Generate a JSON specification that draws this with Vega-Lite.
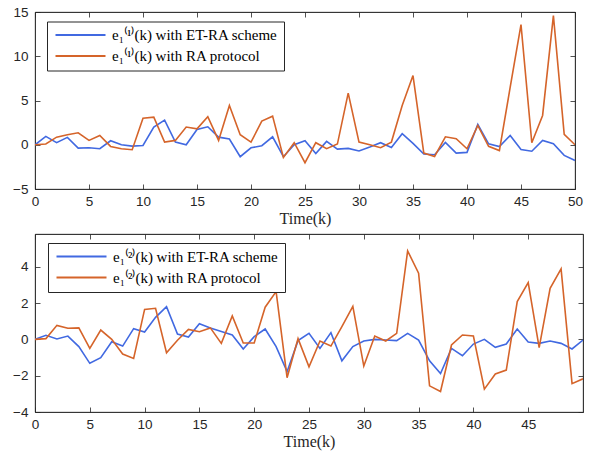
{
  "$schema": "https://vega.github.io/schema/vega-lite/v6.json",
  "background": "white",
  "padding": {"left": 12, "top": 4, "right": 5, "bottom": 5},
  "spacing": 6,
  "resolve": {"scale": {"color": "independent"}, "legend": {"color": "independent"}},
  "config": {
    "view": {"stroke": "#262626", "strokeWidth": 0.8},
    "axis": {"grid": false, "minExtent": 0, "domainColor": "#262626", "domainWidth": 0.8, "tickColor": "#262626", "tickWidth": 0.8, "tickSize": -5, "labelFont": "Liberation Sans", "labelFontSize": 13.5, "labelColor": "#262626", "labelPadding": 12, "labelFlush": false, "titleFont": "Liberation Serif", "titleFontSize": 16, "titleFontWeight": "normal", "titleColor": "#262626"},
    "axisBottom": {"labelPadding": 10},
    "legend": {"fillColor": "white", "strokeColor": "#262626", "padding": 6, "labelFont": "Liberation Serif", "labelFontSize": 15, "labelColor": "black", "symbolType": "M-1,0H9", "symbolStrokeWidth": 2, "symbolSize": 100, "rowPadding": 5, "labelOffset": 44, "labelLimit": 400}
  },
  "datasets": {
    "top": [
      {"k":0,"v":0,"s":"ET-RA"},{"k":1,"v":0.94,"s":"ET-RA"},{"k":2,"v":0.23,"s":"ET-RA"},{"k":3,"v":0.83,"s":"ET-RA"},{"k":4,"v":-0.38,"s":"ET-RA"},{"k":5,"v":-0.34,"s":"ET-RA"},{"k":6,"v":-0.45,"s":"ET-RA"},{"k":7,"v":0.45,"s":"ET-RA"},{"k":8,"v":0,"s":"ET-RA"},{"k":9,"v":-0.15,"s":"ET-RA"},
      {"k":10,"v":-0.08,"s":"ET-RA"},{"k":11,"v":2.0,"s":"ET-RA"},{"k":12,"v":2.78,"s":"ET-RA"},{"k":13,"v":0.3,"s":"ET-RA"},{"k":14,"v":0,"s":"ET-RA"},{"k":15,"v":1.73,"s":"ET-RA"},{"k":16,"v":2.03,"s":"ET-RA"},{"k":17,"v":0.86,"s":"ET-RA"},{"k":18,"v":0.64,"s":"ET-RA"},{"k":19,"v":-1.35,"s":"ET-RA"},
      {"k":20,"v":-0.34,"s":"ET-RA"},{"k":21,"v":-0.11,"s":"ET-RA"},{"k":22,"v":0.9,"s":"ET-RA"},{"k":23,"v":-1.35,"s":"ET-RA"},{"k":24,"v":0,"s":"ET-RA"},{"k":25,"v":0.45,"s":"ET-RA"},{"k":26,"v":-1.0,"s":"ET-RA"},{"k":27,"v":0.38,"s":"ET-RA"},{"k":28,"v":-0.49,"s":"ET-RA"},{"k":29,"v":-0.41,"s":"ET-RA"},
      {"k":30,"v":-0.71,"s":"ET-RA"},{"k":31,"v":-0.26,"s":"ET-RA"},{"k":32,"v":0.23,"s":"ET-RA"},{"k":33,"v":-0.3,"s":"ET-RA"},{"k":34,"v":1.24,"s":"ET-RA"},{"k":35,"v":0.15,"s":"ET-RA"},{"k":36,"v":-1.05,"s":"ET-RA"},{"k":37,"v":-1.13,"s":"ET-RA"},{"k":38,"v":0.26,"s":"ET-RA"},{"k":39,"v":-0.94,"s":"ET-RA"},
      {"k":40,"v":-0.86,"s":"ET-RA"},{"k":41,"v":2.3,"s":"ET-RA"},{"k":42,"v":0.1,"s":"ET-RA"},{"k":43,"v":-0.21,"s":"ET-RA"},{"k":44,"v":1.05,"s":"ET-RA"},{"k":45,"v":-0.53,"s":"ET-RA"},{"k":46,"v":-0.73,"s":"ET-RA"},{"k":47,"v":0.49,"s":"ET-RA"},{"k":48,"v":0.11,"s":"ET-RA"},{"k":49,"v":-1.2,"s":"ET-RA"},{"k":50,"v":-1.77,"s":"ET-RA"},
      {"k":0,"v":0,"s":"RA"},{"k":1,"v":0.08,"s":"RA"},{"k":2,"v":0.86,"s":"RA"},{"k":3,"v":1.13,"s":"RA"},{"k":4,"v":1.35,"s":"RA"},{"k":5,"v":0.49,"s":"RA"},{"k":6,"v":1.05,"s":"RA"},{"k":7,"v":-0.19,"s":"RA"},{"k":8,"v":-0.45,"s":"RA"},{"k":9,"v":-0.56,"s":"RA"},
      {"k":10,"v":3.0,"s":"RA"},{"k":11,"v":3.12,"s":"RA"},{"k":12,"v":0.3,"s":"RA"},{"k":13,"v":0.49,"s":"RA"},{"k":14,"v":2.0,"s":"RA"},{"k":15,"v":1.8,"s":"RA"},{"k":16,"v":3.16,"s":"RA"},{"k":17,"v":0.49,"s":"RA"},{"k":18,"v":4.44,"s":"RA"},{"k":19,"v":1.13,"s":"RA"},
      {"k":20,"v":0.3,"s":"RA"},{"k":21,"v":2.67,"s":"RA"},{"k":22,"v":3.23,"s":"RA"},{"k":23,"v":-1.43,"s":"RA"},{"k":24,"v":0.23,"s":"RA"},{"k":25,"v":-2.03,"s":"RA"},{"k":26,"v":0.23,"s":"RA"},{"k":27,"v":-0.45,"s":"RA"},{"k":28,"v":0.08,"s":"RA"},{"k":29,"v":5.83,"s":"RA"},
      {"k":30,"v":0.3,"s":"RA"},{"k":31,"v":0,"s":"RA"},{"k":32,"v":-0.34,"s":"RA"},{"k":33,"v":0.3,"s":"RA"},{"k":34,"v":4.44,"s":"RA"},{"k":35,"v":7.82,"s":"RA"},{"k":36,"v":-0.94,"s":"RA"},{"k":37,"v":-1.32,"s":"RA"},{"k":38,"v":0.9,"s":"RA"},{"k":39,"v":0.68,"s":"RA"},
      {"k":40,"v":-0.45,"s":"RA"},{"k":41,"v":2.18,"s":"RA"},{"k":42,"v":-0.17,"s":"RA"},{"k":43,"v":-0.66,"s":"RA"},{"k":44,"v":6.5,"s":"RA"},{"k":45,"v":13.57,"s":"RA"},{"k":46,"v":0.23,"s":"RA"},{"k":47,"v":3.31,"s":"RA"},{"k":48,"v":14.59,"s":"RA"},{"k":49,"v":1.17,"s":"RA"},{"k":50,"v":0,"s":"RA"}
    ],
    "bottom": [
      {"k":0,"v":0,"s":"ET-RA"},{"k":1,"v":0.22,"s":"ET-RA"},{"k":2,"v":0.02,"s":"ET-RA"},{"k":3,"v":0.18,"s":"ET-RA"},{"k":4,"v":-0.4,"s":"ET-RA"},{"k":5,"v":-1.32,"s":"ET-RA"},{"k":6,"v":-1.01,"s":"ET-RA"},{"k":7,"v":-0.13,"s":"ET-RA"},{"k":8,"v":-0.37,"s":"ET-RA"},{"k":9,"v":0.59,"s":"ET-RA"},
      {"k":10,"v":0.4,"s":"ET-RA"},{"k":11,"v":1.21,"s":"ET-RA"},{"k":12,"v":1.8,"s":"ET-RA"},{"k":13,"v":0.29,"s":"ET-RA"},{"k":14,"v":0.13,"s":"ET-RA"},{"k":15,"v":0.86,"s":"ET-RA"},{"k":16,"v":0.63,"s":"ET-RA"},{"k":17,"v":0.43,"s":"ET-RA"},{"k":18,"v":0.24,"s":"ET-RA"},{"k":19,"v":-0.53,"s":"ET-RA"},
      {"k":20,"v":0.15,"s":"ET-RA"},{"k":21,"v":0.57,"s":"ET-RA"},{"k":22,"v":-0.4,"s":"ET-RA"},{"k":23,"v":-1.78,"s":"ET-RA"},{"k":24,"v":-0.07,"s":"ET-RA"},{"k":25,"v":0.33,"s":"ET-RA"},{"k":26,"v":-0.5,"s":"ET-RA"},{"k":27,"v":0.37,"s":"ET-RA"},{"k":28,"v":-1.18,"s":"ET-RA"},{"k":29,"v":-0.4,"s":"ET-RA"},
      {"k":30,"v":-0.09,"s":"ET-RA"},{"k":31,"v":0,"s":"ET-RA"},{"k":32,"v":-0.04,"s":"ET-RA"},{"k":33,"v":-0.07,"s":"ET-RA"},{"k":34,"v":0.33,"s":"ET-RA"},{"k":35,"v":-0.04,"s":"ET-RA"},{"k":36,"v":-1.18,"s":"ET-RA"},{"k":37,"v":-1.88,"s":"ET-RA"},{"k":38,"v":-0.5,"s":"ET-RA"},{"k":39,"v":-0.9,"s":"ET-RA"},
      {"k":40,"v":-0.26,"s":"ET-RA"},{"k":41,"v":0,"s":"ET-RA"},{"k":42,"v":-0.44,"s":"ET-RA"},{"k":43,"v":-0.26,"s":"ET-RA"},{"k":44,"v":0.57,"s":"ET-RA"},{"k":45,"v":-0.15,"s":"ET-RA"},{"k":46,"v":-0.22,"s":"ET-RA"},{"k":47,"v":-0.09,"s":"ET-RA"},{"k":48,"v":-0.22,"s":"ET-RA"},{"k":49,"v":-0.53,"s":"ET-RA"},{"k":50,"v":-0.04,"s":"ET-RA"},
      {"k":0,"v":0,"s":"RA"},{"k":1,"v":0.04,"s":"RA"},{"k":2,"v":0.77,"s":"RA"},{"k":3,"v":0.61,"s":"RA"},{"k":4,"v":0.63,"s":"RA"},{"k":5,"v":-0.5,"s":"RA"},{"k":6,"v":0.51,"s":"RA"},{"k":7,"v":0,"s":"RA"},{"k":8,"v":-0.81,"s":"RA"},{"k":9,"v":-1.05,"s":"RA"},
      {"k":10,"v":1.65,"s":"RA"},{"k":11,"v":1.71,"s":"RA"},{"k":12,"v":-0.74,"s":"RA"},{"k":13,"v":-0.05,"s":"RA"},{"k":14,"v":0.55,"s":"RA"},{"k":15,"v":0.42,"s":"RA"},{"k":16,"v":0.63,"s":"RA"},{"k":17,"v":-0.22,"s":"RA"},{"k":18,"v":1.29,"s":"RA"},{"k":19,"v":-0.2,"s":"RA"},
      {"k":20,"v":-0.2,"s":"RA"},{"k":21,"v":1.77,"s":"RA"},{"k":22,"v":2.63,"s":"RA"},{"k":23,"v":-2.11,"s":"RA"},{"k":24,"v":0.04,"s":"RA"},{"k":25,"v":-1.51,"s":"RA"},{"k":26,"v":-0.09,"s":"RA"},{"k":27,"v":-0.37,"s":"RA"},{"k":28,"v":0.7,"s":"RA"},{"k":29,"v":1.82,"s":"RA"},
      {"k":30,"v":-1.47,"s":"RA"},{"k":31,"v":0.18,"s":"RA"},{"k":32,"v":-0.09,"s":"RA"},{"k":33,"v":0.33,"s":"RA"},{"k":34,"v":4.87,"s":"RA"},{"k":35,"v":3.64,"s":"RA"},{"k":36,"v":-2.56,"s":"RA"},{"k":37,"v":-2.87,"s":"RA"},{"k":38,"v":-0.31,"s":"RA"},{"k":39,"v":0.24,"s":"RA"},
      {"k":40,"v":0.18,"s":"RA"},{"k":41,"v":-2.74,"s":"RA"},{"k":42,"v":-1.91,"s":"RA"},{"k":43,"v":-1.69,"s":"RA"},{"k":44,"v":2.08,"s":"RA"},{"k":45,"v":3.13,"s":"RA"},{"k":46,"v":-0.46,"s":"RA"},{"k":47,"v":2.81,"s":"RA"},{"k":48,"v":3.88,"s":"RA"},{"k":49,"v":-2.44,"s":"RA"},{"k":50,"v":-2.17,"s":"RA"}
    ]
  },
  "vconcat": [
    {
      "width": 540, "height": 177,
      "data": {"name": "top"},
      "resolve": {"axis": {"x": "independent", "y": "independent"}},
      "layer": [
        {
          "mark": {"type": "line", "strokeWidth": 1.6, "clip": true},
          "encoding": {
            "x": {"field": "k", "type": "quantitative", "scale": {"domain": [0, 50], "nice": false, "zero": false}, "axis": {"values": [0,5,10,15,20,25,30,35,40,45,50], "title": "Time(k)", "titlePadding": 3}},
            "y": {"field": "v", "type": "quantitative", "scale": {"domain": [-5, 15], "nice": false, "zero": false}, "axis": {"values": [-5,0,5,10,15], "title": null}},
            "color": {"field": "s", "type": "nominal", "sort": ["ET-RA", "RA"], "scale": {"domain": ["ET-RA", "RA"], "range": ["#4169E1", "#D5642A"]}, "legend": {"title": null, "orient": "none", "legendX": 12, "legendY": 9.5, "labelExpr": "datum.label == 'ET-RA' ? 'e₁⁽¹⁾(k) with ET-RA scheme' : 'e₁⁽¹⁾(k) with RA protocol'"}}
          }
        },
        {
          "mark": {"type": "line", "opacity": 0},
          "encoding": {
            "x": {"field": "k", "type": "quantitative", "axis": {"orient": "top", "values": [0,5,10,15,20,25,30,35,40,45,50], "labels": false, "labelPadding": 0, "title": null}},
            "y": {"field": "v", "type": "quantitative", "axis": {"orient": "right", "values": [-5,0,5,10,15], "labels": false, "labelPadding": 0, "title": null}},
            "detail": {"field": "s"}
          }
        }
      ]
    },
    {
      "width": 548, "height": 178,
      "data": {"name": "bottom"},
      "resolve": {"axis": {"x": "independent", "y": "independent"}},
      "layer": [
        {
          "mark": {"type": "line", "strokeWidth": 1.6, "clip": true},
          "encoding": {
            "x": {"field": "k", "type": "quantitative", "scale": {"domain": [0, 50], "nice": false, "zero": false}, "axis": {"values": [0,5,10,15,20,25,30,35,40,45], "title": "Time(k)", "titlePadding": 3}},
            "y": {"field": "v", "type": "quantitative", "scale": {"domain": [-4, 5.8], "nice": false, "zero": false}, "axis": {"values": [-4,-2,0,2,4], "title": null}},
            "color": {"field": "s", "type": "nominal", "sort": ["ET-RA", "RA"], "scale": {"domain": ["ET-RA", "RA"], "range": ["#4169E1", "#D5642A"]}, "legend": {"title": null, "orient": "none", "legendX": 13, "legendY": 9, "labelExpr": "datum.label == 'ET-RA' ? 'e₁⁽²⁾(k) with ET-RA scheme' : 'e₁⁽²⁾(k) with RA protocol'"}}
          }
        },
        {
          "mark": {"type": "line", "opacity": 0},
          "encoding": {
            "x": {"field": "k", "type": "quantitative", "axis": {"orient": "top", "values": [0,5,10,15,20,25,30,35,40,45], "labels": false, "labelPadding": 0, "title": null}},
            "y": {"field": "v", "type": "quantitative", "axis": {"orient": "right", "values": [-4,-2,0,2,4], "labels": false, "labelPadding": 0, "title": null}},
            "detail": {"field": "s"}
          }
        }
      ]
    }
  ]
}
